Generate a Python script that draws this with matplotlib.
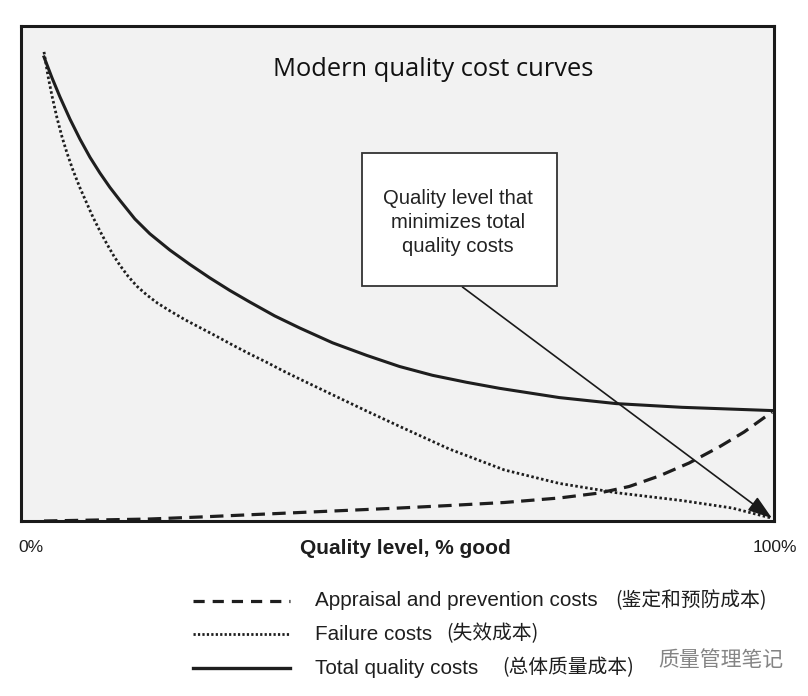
import matplotlib
matplotlib.use("Agg")
import matplotlib.pyplot as plt
from matplotlib.lines import Line2D
from matplotlib.patches import Rectangle
import matplotlib.transforms as mtransforms

# ---------------- data ----------------
total_x = [0, 1.10, 2.19, 3.57, 4.94, 6.31, 7.68, 9.05, 10.43, 12.48, 14.54, 17.28, 20.03, 22.77,
           25.51, 28.26, 31.69, 35.12, 39.64, 44.31, 48.83, 53.36, 58.02, 62.55, 70.78, 78.6,
           87.65, 100]
total_y = [100.0, 95.5, 91.4, 86.6, 82.3, 78.4, 75.0, 71.9, 69.1, 65.1, 61.9, 58.4, 55.3, 52.4,
           49.7, 47.2, 44.2, 41.6, 38.4, 35.7, 33.3, 31.4, 29.9, 28.6, 26.6, 25.3, 24.5, 23.8]

failure_x = [0, 0.55, 1.10, 1.78, 2.47, 3.16, 3.98, 4.94, 5.90, 6.72, 7.68, 8.64, 9.60, 10.43,
             11.52, 12.76, 14.13, 15.64, 17.28, 19.34, 21.40, 23.59, 25.93, 28.26, 30.59, 32.78,
             35.12, 39.64, 44.31, 48.83, 55.69, 63.24, 70.78, 78.6, 87.65, 94.51, 100]
failure_y = [101.1, 95.9, 91.6, 86.9, 82.8, 79.3, 75.6, 71.8, 68.4, 65.5, 62.5, 59.7, 57.1, 55.1,
             52.8, 50.6, 48.7, 46.9, 45.3, 43.4, 41.7, 39.9, 37.9, 36.0, 34.2, 32.4,
             30.6, 27.2, 23.7, 20.4, 15.5, 11.0, 8.1, 6.1, 4.4, 2.8, 0.6]

appraisal_x = [0, 14.54, 21.40, 35.12, 48.83, 55.69, 63.24, 70.78, 76.27, 80.38, 84.50, 88.61,
               92.73, 96.16, 100]
appraisal_y = [0, 0.43, 0.86, 1.83, 2.80, 3.34, 3.99, 4.96, 6.03, 7.44, 9.70, 12.50,
               15.95, 19.18, 23.49]

tick_values = [0, 100]
tick_labels = ["0%", "100%"]

title_text = "Modern quality cost curves"
xlabel_text = "Quality level, % good"
box_text = "Quality level that\nminimizes total\nquality costs"
legend_en = ["Appraisal and prevention costs", "Failure costs", "Total quality costs"]
legend_zh = ["(鉴定和预防成本)", "(失效成本)", "(总体质量成本)"]
watermark_text = "质量管理笔记"
# -----------------------------------------------------------------

W, H = 808, 696
fig = plt.figure(figsize=(W / 100, H / 100), dpi=100)
fig.patch.set_facecolor("white")


def fx(px):
    return px / W


def fy(py):
    return 1 - py / H


L, R, T, B = 21, 774, 26, 521
ax = fig.add_axes([fx(L), fy(B), fx(R) - fx(L), fy(T) - fy(B)])
ax.set_facecolor("#f2f2f2")
ax.set_xlim(-3.16, 100.27)
ax.set_ylim(0, (B - T) / 4.64)
for s in ax.spines.values():
    s.set_linewidth(2.2)
    s.set_color("#1a1a1a")

ink = "#1e1e1e"
styles = [
    dict(ls=(0, (4.2, 2.3)), lw=2.3, color=ink),
    dict(ls=(0, (0.9, 0.9)), lw=2.0, color=ink),
    dict(ls="-", lw=2.2, color=ink),
]

ax.plot(appraisal_x, appraisal_y, solid_joinstyle="round", **styles[0])
ax.plot(failure_x, failure_y, **styles[1])
ax.plot(total_x, total_y, solid_joinstyle="round", **styles[2])

sans = ["Liberation Sans", "Noto Sans CJK SC", "DejaVu Sans"]
cjk = ["Noto Sans CJK SC", "DejaVu Sans"]

ax.set_xticks(tick_values)
ax.set_xticklabels(tick_labels, family=sans, fontsize=12.5, color=ink)
ax.tick_params(axis="x", length=0, pad=14)
ax.set_yticks([])
offsets = [-13, 3]
for lab, dx in zip(ax.get_xticklabels(), offsets):
    lab.set_transform(lab.get_transform() +
                      mtransforms.ScaledTranslation(dx / 100, 0, fig.dpi_scale_trans))

ax.set_xlabel(xlabel_text, family=sans, fontsize=15, fontweight="bold", color=ink)
ax.xaxis.set_label_coords((405 - L) / (R - L), -(539 - B) / (B - T))

# title
fig.text(fx(433), fy(70), title_text, ha="center", va="center", fontsize=18.4,
         family=["Open Sans", "DejaVu Sans"], color="#111111")

# annotation box
fig.patches.append(Rectangle((fx(362), fy(286)), fx(557) - fx(362), fy(153) - fy(286),
                             transform=fig.transFigure, facecolor="white",
                             edgecolor="#333333", lw=1.3, zorder=3))
fig.text(fx(458), fy(222.5), box_text, ha="center", va="center", fontsize=14.6,
         family=sans, color="#222222", linespacing=1.36, zorder=4)

# arrow from box to optimum
ax.annotate("", xy=(100, 0.6), xycoords="data",
            xytext=((463 - 44) / 7.29, (B - 287) / 4.64), textcoords="data",
            arrowprops=dict(arrowstyle="-|>,head_length=1.5,head_width=0.5",
                            lw=1.2, color="#1a1a1a", shrinkA=0, shrinkB=0),
            zorder=5)

# legend (manual, in figure coordinates)
rows = [601, 634, 668]
zh_x = [615, 446, 502]
sample_styles = [
    dict(ls=(0, (3.5, 2.5)), lw=2.3, color=ink),
    dict(ls=(0, (0.8, 0.8)), lw=2.0, color=ink),
    dict(ls="-", lw=2.4, color=ink),
]
for en, zh, st, py, zx in zip(legend_en, legend_zh, sample_styles, rows, zh_x):
    fig.add_artist(Line2D([fx(193), fx(290)], [fy(py), fy(py)],
                          transform=fig.transFigure, **st))
    fig.text(fx(315), fy(py), en, ha="left", va="center", fontsize=14.9,
             family=sans, color=ink)
    fig.text(fx(zx), fy(py), zh, ha="left", va="center", fontsize=14.2,
             family=cjk, color=ink)

# watermark
fig.text(fx(721), fy(660), watermark_text, ha="center", va="center", fontsize=15,
         family=cjk, color="#777777", alpha=0.9,
         bbox=dict(boxstyle="round,pad=0.3", fc="white", ec="none", alpha=0.6))

fig.savefig("out.png", dpi=100, facecolor="white")
